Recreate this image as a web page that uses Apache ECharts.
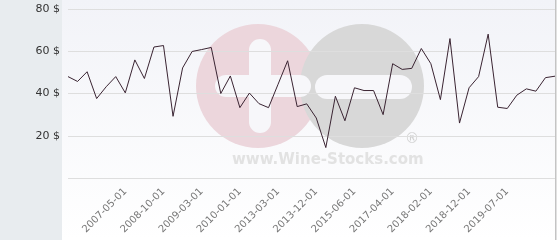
<!DOCTYPE html>
<html><head><meta charset="utf-8">
<script src="https://cdn.jsdelivr.net/npm/echarts@6/dist/echarts.min.js"></script>
<style>html,body{margin:0;padding:0;background:#fff}#c{width:560px;height:240px}</style>
</head><body><div id="c"></div>
<script>
const categories = ['2006-05-01','2006-07-01','2006-09-01','2006-11-01','2007-01-01','2007-03-01','2007-05-01','2007-09-01','2008-01-01','2008-06-01','2008-10-01','2008-12-01','2009-01-01','2009-02-01','2009-03-01','2009-06-01','2009-09-01','2009-11-01','2010-01-01','2010-10-01','2011-06-01','2012-05-01','2013-03-01','2013-06-01','2013-08-01','2013-10-01','2013-12-01','2014-05-01','2014-09-01','2015-01-01','2015-06-01','2015-12-01','2016-05-01','2016-11-01','2017-04-01','2017-07-01','2017-09-01','2017-12-01','2018-02-01','2018-05-01','2018-07-01','2018-10-01','2018-12-01','2019-02-01','2019-04-01','2019-05-01','2019-07-01','2019-09-01','2019-11-01','2020-01-01','2020-03-01','2020-05-01'];
const prices = [48,45.7,50.3,37.6,43.2,48,40.3,55.9,47.1,62,62.7,29.2,52.1,59.9,60.8,61.8,40,48.3,33.3,40.2,35.2,33.3,44.4,55.5,33.8,35.1,28.4,14.4,38.7,27.1,42.7,41.4,41.4,30,54.1,51.4,51.9,61.3,54.1,37.1,66,26,42.7,48,68.1,33.5,32.9,39.2,42.2,41.1,47.5,48.2];
const tickLabels = ['2007-05-01','2008-10-01','2009-03-01','2010-01-01','2013-03-01','2013-12-01','2015-06-01','2017-04-01','2018-02-01','2018-12-01','2019-07-01'];
const yTicks = [20,40,60,80];

const chart = echarts.init(document.getElementById('c'), null, {renderer:'canvas'});
chart.setOption({
  animation:false,
  textStyle:{fontFamily:'DejaVu Sans'},
  graphic:[
    {type:'rect', z:-10, shape:{x:0,y:0,width:62,height:240}, style:{fill:'#e8ecef'}},
    {type:'rect', z:-10, shape:{x:62,y:0,width:494,height:240}, style:{fill:new echarts.graphic.LinearGradient(0,0,0,1,[{offset:0,color:'#f2f3f8'},{offset:1,color:'#ffffff'}])}},
    {type:'rect', z:-10, shape:{x:555,y:0,width:1.5,height:240}, style:{fill:'#c4c4c4'}},
    {type:'circle', z:-5, shape:{cx:258,cy:86,r:62}, style:{fill:'#ecd6dc'}},
    {type:'circle', z:-5, shape:{cx:362,cy:86,r:62}, style:{fill:'#d8d8d8'}},
    {type:'rect', z:-4, shape:{x:249,y:39,width:22,height:94,r:11}, style:{fill:'#f7f7fa'}},
    {type:'rect', z:-4, shape:{x:215,y:75,width:96,height:22,r:11}, style:{fill:'#f7f7fa'}},
    {type:'rect', z:-4, shape:{x:315,y:75,width:97,height:24,r:12}, style:{fill:'#f7f7fa'}},
    {type:'text', z:-4, left:405, top:132, style:{text:'®', fill:'#d0d0d0', font:'14px DejaVu Sans'}},
    {type:'text', z:-4, left:232, top:153, style:{text:'www.Wine-Stocks.com', fill:'#e2e2e2', font:'bold 15px DejaVu Sans'}}
  ],
  grid:{left:68, right:5, top:9, bottom:62},
  xAxis:{
    type:'category', data:categories, boundaryGap:false,
    axisLine:{show:false}, axisTick:{show:false},
    axisLabel:{
      rotate:45, fontSize:10, color:'#777', margin:12,
      interval:(i, v)=>tickLabels.includes(v)
    }
  },
  yAxis:{
    type:'value', min:0, max:80, interval:20,
    axisLine:{show:false}, axisTick:{show:false},
    splitLine:{lineStyle:{color:'#dedede', width:1}},
    axisLabel:{fontSize:11, color:'#333', margin:8,
      formatter:(v)=>yTicks.includes(v)?v+' $':''}
  },
  series:[{
    type:'line', data:prices, showSymbol:false, symbol:'none',
    lineStyle:{color:'#3a2432', width:1}
  }]
});
</script></body></html>
